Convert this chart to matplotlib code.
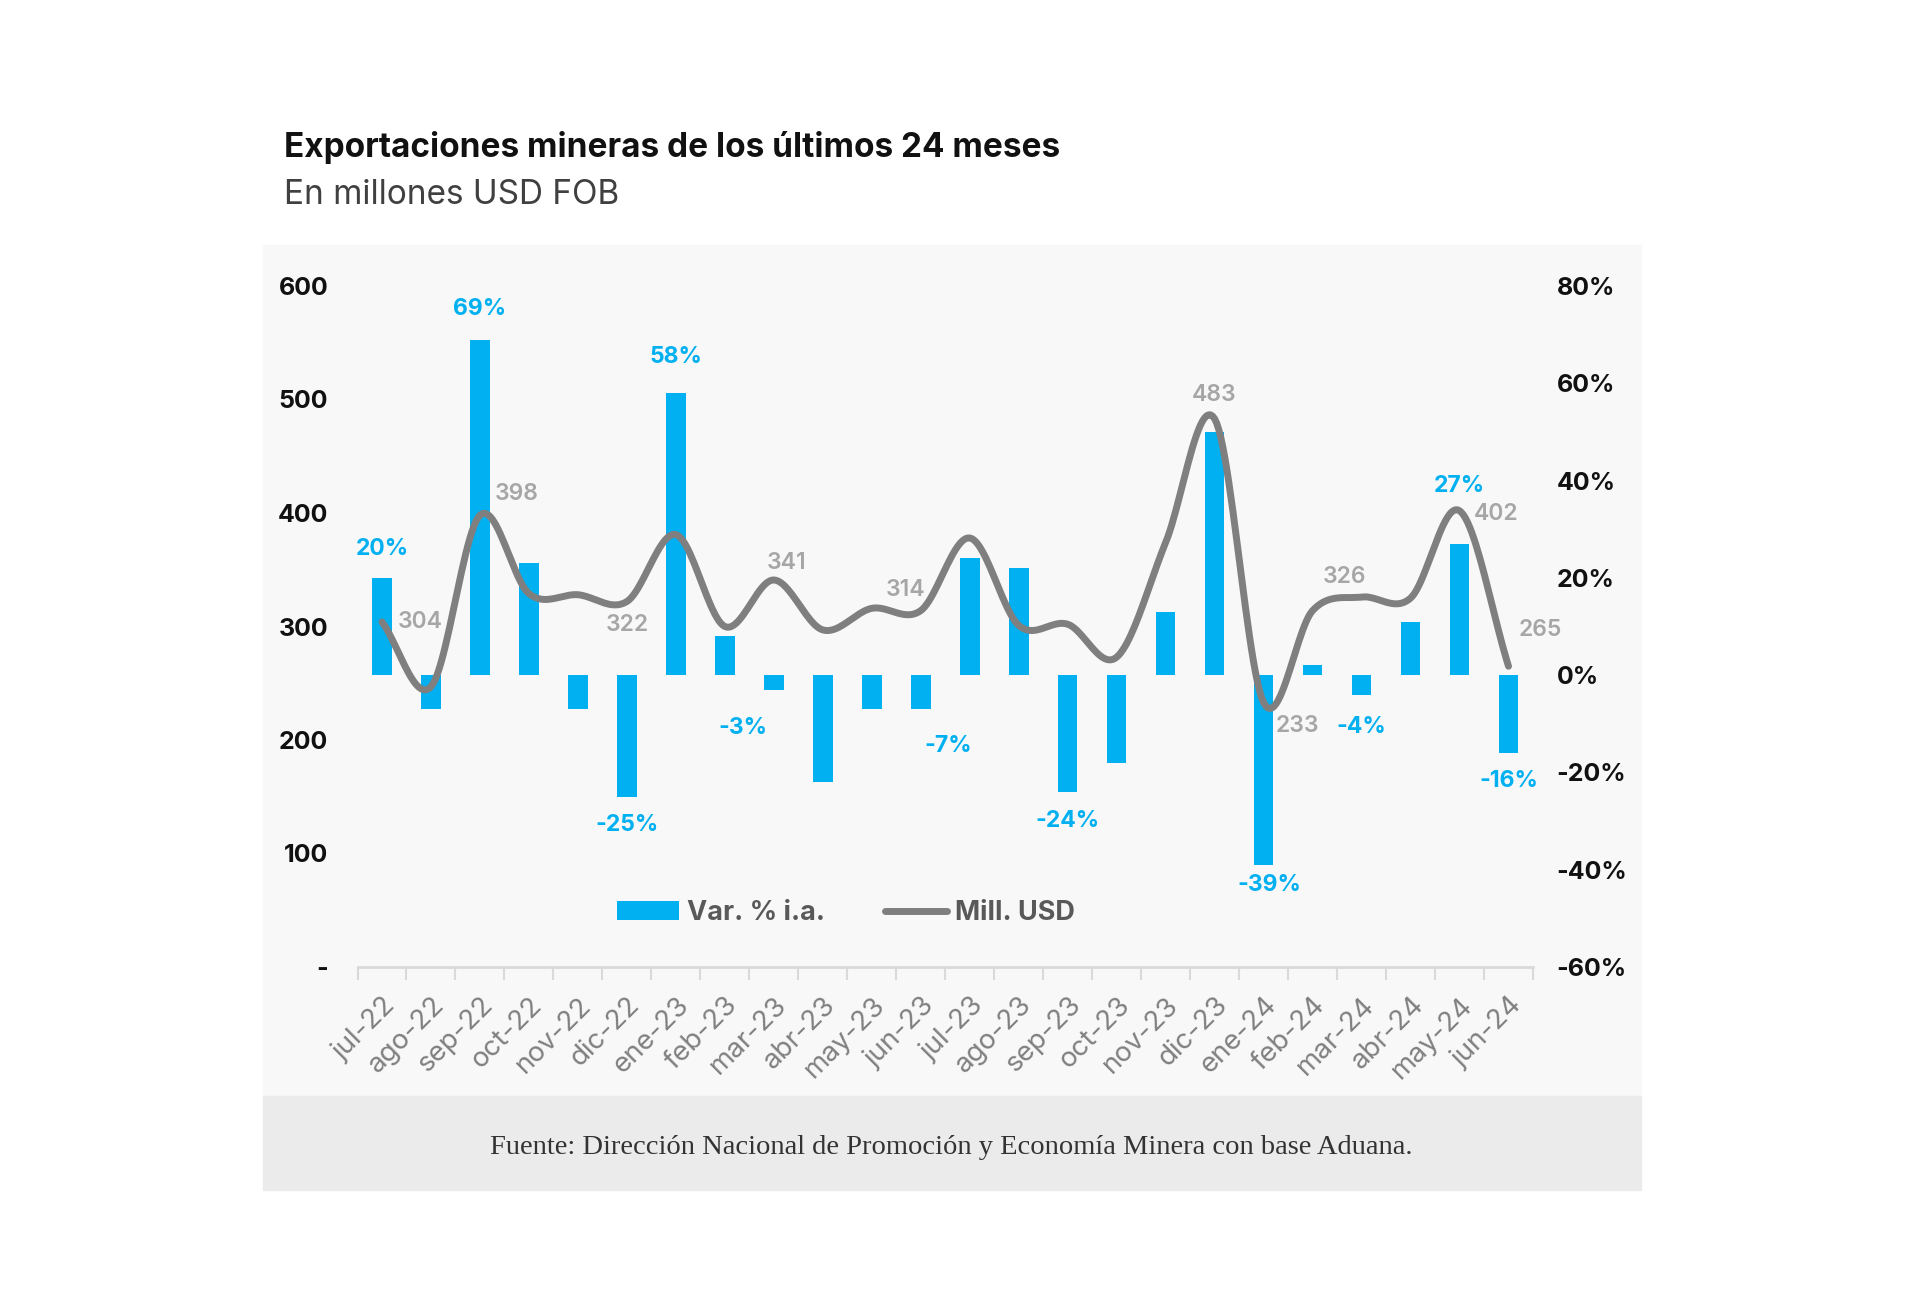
import matplotlib
matplotlib.use("Agg")
import matplotlib.pyplot as plt
from matplotlib.patches import Rectangle, Patch
from matplotlib.lines import Line2D
import numpy as np

plt.rcParams["font.family"] = ["Inter", "DejaVu Sans"]

# data
months = ["jul-22", "ago-22", "sep-22", "oct-22", "nov-22", "dic-22",
          "ene-23", "feb-23", "mar-23", "abr-23", "may-23", "jun-23",
          "jul-23", "ago-23", "sep-23", "oct-23", "nov-23", "dic-23",
          "ene-24", "feb-24", "mar-24", "abr-24", "may-24", "jun-24"]
mill_usd = [304, 247, 398, 329, 328, 322, 381, 300, 341, 297, 316, 314,
            378, 301, 302, 273, 374, 483, 233, 314, 326, 325, 402, 265]
var_pct = [20, -7, 69, 23, -7, -25, 58, 8, -3, -22, -7, -7,
           24, 22, -24, -18, 13, 50, -39, 2, -4, 11, 27, -16]

# which points carry a label, with (dx, dy) offsets in pixels
pct_labels = {0: (0, 29), 2: (0, 31), 5: (0, -28), 6: (0, 36), 8: (-31, -38),
              11: (27, -37), 14: (0, -29), 18: (6, -20), 20: (0, -32),
              22: (0, 58), 23: (0, -28)}
usd_labels = {0: (38, 0), 2: (37, 21), 5: (0, -23), 8: (13, 17), 11: (-15, 21),
              17: (-1, 24), 18: (34, -23), 20: (-17, 20), 22: (37, -3),
              23: (32, 36)}

left_ticks = [0, 100, 200, 300, 400, 500, 600]
left_ticklabels = ["-", "100", "200", "300", "400", "500", "600"]
right_ticks = [-60, -40, -20, 0, 20, 40, 60, 80]

BLUE = "#00B0F0"
GREY = "#7F7F7F"
LABEL_GREY = "#A6A6A6"


def catmull_rom(xs, ys, n=24):
    # smooth curve through the points, like Excel's "smoothed line"
    px = np.concatenate([[2 * xs[0] - xs[1]], xs, [2 * xs[-1] - xs[-2]]])
    py = np.concatenate([[2 * ys[0] - ys[1]], ys, [2 * ys[-1] - ys[-2]]])
    outx, outy = [], []
    t = np.linspace(0, 1, n, endpoint=False)
    for i in range(1, len(px) - 2):
        for p, out in ((px, outx), (py, outy)):
            p0, p1, p2, p3 = p[i - 1], p[i], p[i + 1], p[i + 2]
            out.extend(0.5 * (2 * p1 + (-p0 + p2) * t
                              + (2 * p0 - 5 * p1 + 4 * p2 - p3) * t ** 2
                              + (-p0 + 3 * p1 - 3 * p2 + p3) * t ** 3))
    outx.append(xs[-1])
    outy.append(ys[-1])
    return np.array(outx), np.array(outy)


fig = plt.figure(figsize=(19.2, 13.13), dpi=100)
W, H = 1920, 1313

# chart panel and footer band
fig.patches.append(Rectangle((263 / W, 1 - 1096 / H), 1378 / W, 851 / H,
                             transform=fig.transFigure, color="#F8F8F8", zorder=-10))
fig.patches.append(Rectangle((263 / W, 1 - 1190 / H), 1378 / W, 94 / H,
                             transform=fig.transFigure, color="#EBEBEB", zorder=-10))

fig.text(284 / W, 1 - 148 / H, "Exportaciones mineras de los últimos 24 meses",
         fontsize=24, fontweight="bold", color="#111111", va="center", ha="left")
fig.text(284 / W, 1 - 195 / H, "En millones USD FOB",
         fontsize=24, color="#404040", va="center", ha="left")
fig.text(951 / W, 1 - 1147 / H,
         "Fuente: Dirección Nacional de Promoción y Economía Minera con base Aduana.",
         fontsize=20.5, family=["Liberation Serif", "DejaVu Serif"],
         color="#333333", va="center", ha="center")

ax = fig.add_axes([357.5 / W, 1 - 967 / H, 1175.5 / W, 681 / H])
ax.set_facecolor("none")
ax2 = ax.twinx()
ax2.set_facecolor("none")
x = np.arange(len(months))

# bars: year-on-year change (right scale)
ax.bar(x, var_pct, width=0.4, color=BLUE, zorder=2)
ax.set_ylim(-60, 80)
ax.set_xlim(-0.5, len(months) - 0.5)
ax.yaxis.tick_right()
ax.set_yticks(right_ticks)
ax.set_yticklabels([f"{v}%" for v in right_ticks])

for i, (dx, dy) in pct_labels.items():
    ax.annotate(f"{var_pct[i]}%", (x[i], var_pct[i]), xytext=(dx, dy),
                textcoords="offset pixels", ha="center", va="center",
                fontsize=16.5, fontweight="bold", color=BLUE, zorder=5)

# line: millions of USD (left scale)
ax2.set_ylim(0, 600)
ax2.yaxis.tick_left()
ax2.set_yticks(left_ticks)
ax2.set_yticklabels(left_ticklabels)
sx, sy = catmull_rom(x.astype(float), np.array(mill_usd, dtype=float))
ax2.plot(sx, sy, color=GREY, lw=5, solid_capstyle="round", zorder=3)

for i, (dx, dy) in usd_labels.items():
    ax2.annotate(str(mill_usd[i]), (x[i], mill_usd[i]), xytext=(dx, dy),
                 textcoords="offset pixels", ha="center", va="center",
                 fontsize=16.5, fontweight="semibold", color=LABEL_GREY, zorder=5)

for a in (ax, ax2):
    for s in a.spines.values():
        s.set_visible(False)
    a.tick_params(axis="y", length=0, labelsize=18, labelcolor="#111111")
    for lbl in a.get_yticklabels():
        lbl.set_fontweight("bold")
ax.tick_params(axis="y", pad=17)
ax2.tick_params(axis="y", pad=21)

ax.spines["bottom"].set_visible(True)
ax.spines["bottom"].set_color("#D9D9D9")
ax.spines["bottom"].set_linewidth(2)
ax.set_xticks(x)
ax.set_xticklabels(months, rotation=45, ha="right", rotation_mode="anchor")
ax.tick_params(axis="x", which="major", length=0, pad=18,
               labelsize=20, labelcolor="#808080")
ax.set_xticks(np.arange(-0.5, len(months)), minor=True)
ax.tick_params(axis="x", which="minor", length=9, width=1.5, color="#D9D9D9")

handles = [Patch(facecolor=BLUE, edgecolor="none"),
           Line2D([0], [0], color=GREY, lw=5, solid_capstyle="round")]
leg = ax.legend(handles, ["Var. % i.a.", "Mill. USD"], loc="center",
                bbox_to_anchor=(0.4156, 0.0793), ncol=2, frameon=False,
                handlelength=2.3, handleheight=0.7, handletextpad=0.3,
                columnspacing=2.2, prop={"size": 19.5, "weight": "bold"})
for t in leg.get_texts():
    t.set_color("#595959")

fig.savefig("out.png", dpi=100)
